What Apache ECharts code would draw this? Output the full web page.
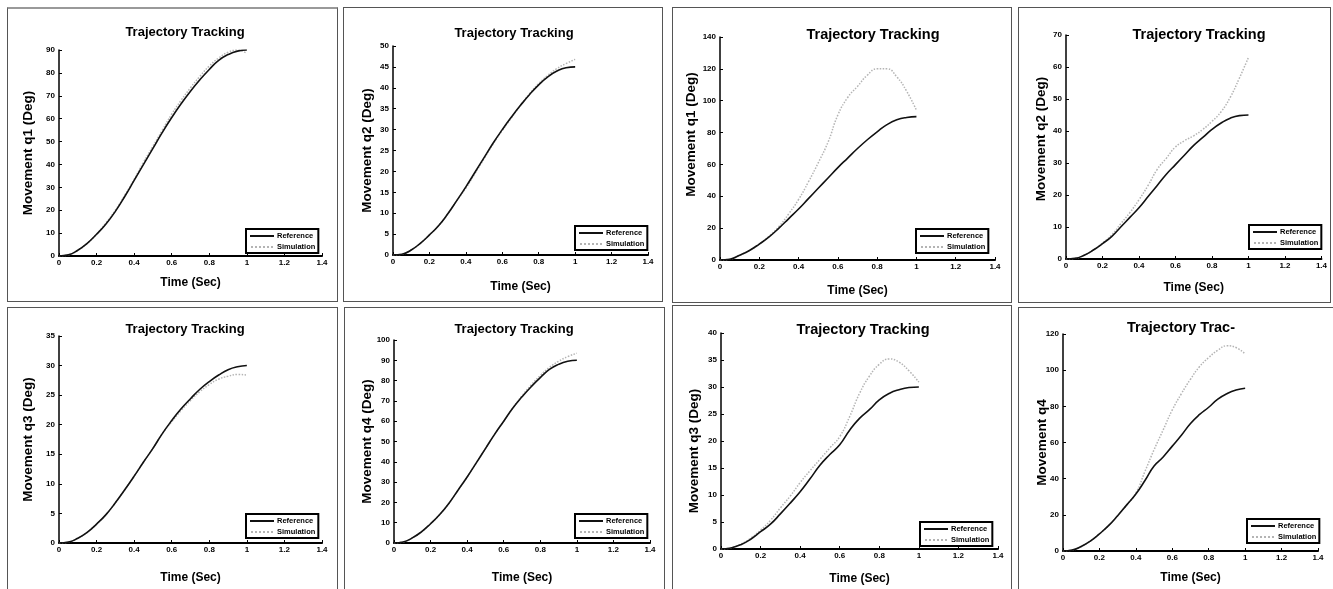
<!DOCTYPE html>
<html>
<head>
<meta charset="utf-8">
<title>Trajectory Tracking</title>
<script src="https://cdn.jsdelivr.net/npm/echarts/dist/echarts.min.js"></script>
<style>
body { margin:0; background:#fff; width:1333px; height:589px; overflow:hidden; position:relative; }
.panel { position:absolute; border:1px solid #555; box-sizing:border-box; background:#fff; }
</style>
</head>
<body>
<div id="p1" class="panel" style="left:7px;top:7px;width:331px;height:295px;border-top:2px solid #999"></div>
<div id="p2" class="panel" style="left:343px;top:7px;width:320px;height:295px"></div>
<div id="p3" class="panel" style="left:672px;top:7px;width:340px;height:296px"></div>
<div id="p4" class="panel" style="left:1018px;top:7px;width:313px;height:296px"></div>
<div id="p5" class="panel" style="left:7px;top:307px;width:331px;height:284px"></div>
<div id="p6" class="panel" style="left:344px;top:307px;width:321px;height:284px"></div>
<div id="p7" class="panel" style="left:672px;top:305px;width:340px;height:286px"></div>
<div id="p8" class="panel" style="left:1018px;top:307px;width:317px;height:284px"></div>
<script type="text/javascript">
// sample times (sec)
var time = [0,0.05,0.1,0.15,0.2,0.25,0.3,0.35,0.4,0.45,0.5,0.55,0.6,0.65,0.7,0.75,0.8,0.85,0.9,0.95,1];

// top row
var q1RefA = [0,0.5,2.5,5.5,9.5,14,19.5,26,33,40,47,54,60.5,66.5,72,77,81.5,85.5,88,89.5,90];
var q1SimA = [0,0.5,2.5,5.5,9.5,14.5,20,26.5,33.5,41,48,55,62,68,73.5,78.5,83,86.5,89,90,88.5];
var q2RefA = [0,0.2,1.2,2.8,4.8,7,9.8,13,16.3,19.8,23.3,26.8,30,33,35.8,38.4,40.7,42.6,44,44.8,45];
var q2SimA = [0,0.2,1.2,2.8,4.8,7,9.8,13,16,19.5,23,26.6,29.8,32.8,35.8,38.6,41,43,44.6,45.8,46.8];
var q1RefB = [0,0.5,3,6,10,14.5,20,26,32,38.5,45,51.5,58,64,70,75.5,80.5,85,88,89.5,90];
var q1SimB = [0,0.5,3,6,10,15,21,29,38,49,61,74,91,102,109,116,120,120,115,106,94];
var q2RefB = [0,0.2,1.2,2.8,4.8,7,10,13,16,19.5,23,26.5,29.5,32.5,35.5,38,40.5,42.5,44,44.8,45];
var q2SimB = [0,0.2,1.2,2.8,5,7.5,11,14.5,18.5,23,28,31.5,35,37,38.5,40.5,43,46,50.5,56.5,63];

// bottom row
var q3RefA = [0,0.15,0.8,1.8,3.2,4.8,6.8,9,11.3,13.7,16,18.5,20.7,22.7,24.4,26,27.3,28.4,29.3,29.8,30];
var q3SimA = [0,0.15,0.8,1.8,3.2,4.8,6.8,9,11.3,13.7,16,18.5,20.5,22.4,24.1,25.6,26.8,27.7,28.2,28.5,28.4];
var q4RefA = [0,0.5,2.5,5.5,9.5,14,19.5,26,32.5,39.5,46.5,53.5,60,66.5,72,77,81.5,85.5,88,89.5,90];
var q4SimA = [0,0.5,2.5,5.5,9.5,14,19.5,26,32.5,39.5,46.5,53.5,60,66.5,72.5,77.8,82.5,86.5,89.5,91.8,93.5];
var q3RefB = [0,0.2,0.8,1.8,3.2,4.6,6.5,8.5,10.6,13,15.5,17.5,19.3,22,24.2,25.8,27.6,28.8,29.5,29.9,30];
var q3SimB = [0,0.2,0.9,2,3.5,5.3,7.6,9.8,12.3,14.5,16.6,18.7,20.8,24.5,28.8,32,34.2,35.2,34.6,33,30.9];
var q4RefB = [0,0.5,2.5,5.5,9.5,14,19.5,25.5,31.5,39,47,52,58,64,70.5,75.5,79.5,84,87,89,90];
var q4SimB = [0,0.5,2.5,5.5,9.5,14,19.5,25.5,32,44,56,67,78,87,95,102,107,111,113.5,112.5,109];

var xTicks = { min: 0, max: 1.4, step: 0.2 };
var seriesNames = ['Reference', 'Simulation'];

function pairs(v) {
    return time.map(function (t, i) { return [t, v[i]]; });
}

var font = 'Arial, "Liberation Sans", sans-serif';
// legend samples: plain line and dotted line
var solidIcon = 'path://M0,0H24V2H0Z';
var dottedIcon = 'path://M0,0H2V2H0Z M4,0H6V2H4Z M8,0H10V2H8Z M12,0H14V2H12Z M16,0H18V2H16Z M20,0H22V2H20Z';

function drawPanel(id, c) {
    var chart = echarts.init(document.getElementById(id));
    var option = {
        animation: false,
        title: {
            text: c.title,
            left: c.titleX,
            top: c.titleY,
            textAlign: 'center',
            textStyle: { fontSize: c.titleSize, fontWeight: 'bold', color: '#000', fontFamily: font }
        },
        grid: c.grid,
        legend: {
            data: [{ name: seriesNames[0], icon: solidIcon }, { name: seriesNames[1], icon: dottedIcon }],
            orient: 'vertical',
            left: c.legend[0],
            top: c.legend[1],
            itemWidth: 24,
            itemHeight: 2,
            itemGap: 3,
            padding: [3, 3, 2, 4],
            borderColor: '#000',
            borderWidth: 2,
            backgroundColor: '#fff',
            textStyle: { fontSize: 7.5, fontWeight: 'bold', color: '#000', fontFamily: font, padding: [0, 0, 0, -2] }
        },
        xAxis: {
            type: 'value',
            min: xTicks.min, max: xTicks.max, interval: xTicks.step,
            name: 'Time (Sec)',
            nameLocation: 'middle',
            nameGap: c.xGap,
            nameMoveOverlap: false,
            nameTextStyle: { fontSize: 12, fontWeight: 'bold', color: '#000', fontFamily: font },
            axisLine: { lineStyle: { color: '#000', width: 2 } },
            axisTick: { inside: true, length: 3, lineStyle: { color: '#000' } },
            axisLabel: { fontSize: 8, fontWeight: 'bold', color: '#000', margin: 3, fontFamily: font },
            splitLine: { show: false }
        },
        yAxis: {
            type: 'value',
            min: 0, max: c.yMax, interval: c.yStep,
            name: c.yName,
            nameLocation: 'middle',
            nameGap: c.yGap,
            nameMoveOverlap: false,
            nameTextStyle: { fontSize: 13.5, fontWeight: 'bold', color: '#000', fontFamily: font,
                padding: c.yPad || 0 },
            axisLine: { show: true, lineStyle: { color: '#000', width: 1.5 } },
            axisTick: { show: true, inside: true, length: 3, lineStyle: { color: '#000' } },
            axisLabel: { fontSize: 8, fontWeight: 'bold', color: '#000', margin: 4, fontFamily: font },
            splitLine: { show: false }
        },
        series: [{
            name: 'Reference',
            type: 'line',
            smooth: true,
            showSymbol: false,
            symbol: 'none',
            lineStyle: { color: '#111', width: 1.6 },
            itemStyle: { color: '#111' },
            data: pairs(c.ref),
            z: 3
        }, {
            name: 'Simulation',
            type: 'line',
            smooth: true,
            showSymbol: false,
            symbol: 'none',
            lineStyle: { color: '#b4b4b4', width: 1.5, type: 'dotted' },
            itemStyle: { color: '#b4b4b4' },
            data: pairs(c.sim),
            z: 2
        }]
    };
    chart.setOption(option);
}

drawPanel('p1', { title: 'Trajectory Tracking', titleSize: 13, titleX: 172, titleY: 12, yName: 'Movement q1 (Deg)', yMax: 90, yStep: 10,
    ref: q1RefA, sim: q1SimA, grid: { left: 51, top: 41, right: 15, bottom: 45 }, xGap: 21, yGap: 24, legend: [238, 220] });
drawPanel('p2', { title: 'Trajectory Tracking', titleSize: 13, titleX: 165, titleY: 14, yName: 'Movement q2 (Deg)', yMax: 50, yStep: 5,
    ref: q2RefA, sim: q2SimA, grid: { left: 49, top: 38, right: 14, bottom: 46 }, xGap: 26, yGap: 19, legend: [231, 218] });
drawPanel('p3', { title: 'Trajectory Tracking', titleSize: 14.5, titleX: 195, titleY: 14, yName: 'Movement q1 (Deg)', yMax: 140, yStep: 20,
    ref: q1RefB, sim: q1SimB, grid: { left: 47, top: 29, right: 16, bottom: 40 }, xGap: 25, yGap: 22, legend: [243, 221],
    yPad: [0, 0, 0, 28] });
drawPanel('p4', { title: 'Trajectory Tracking', titleSize: 14.5, titleX: 175, titleY: 14, yName: 'Movement q2 (Deg)', yMax: 70, yStep: 10,
    ref: q2RefB, sim: q2SimB, grid: { left: 47, top: 27, right: 5, bottom: 43 }, xGap: 23, yGap: 18, legend: [230, 217],
    yPad: [0, 0, 0, 16] });
drawPanel('p5', { title: 'Trajectory Tracking', titleSize: 13, titleX: 172, titleY: 10, yName: 'Movement q3 (Deg)', yMax: 35, yStep: 5,
    ref: q3RefA, sim: q3SimA, grid: { left: 51, top: 28, right: 15, bottom: 47 }, xGap: 29, yGap: 24, legend: [238, 206] });
drawPanel('p6', { title: 'Trajectory Tracking', titleSize: 13, titleX: 164, titleY: 10, yName: 'Movement q4 (Deg)', yMax: 100, yStep: 10,
    ref: q4RefA, sim: q4SimA, grid: { left: 49, top: 32, right: 14, bottom: 47 }, xGap: 29, yGap: 20, legend: [230, 206] });
drawPanel('p7', { title: 'Trajectory Tracking', titleSize: 14.5, titleX: 185, titleY: 11, yName: 'Movement q3 (Deg)', yMax: 40, yStep: 5,
    ref: q3RefB, sim: q3SimB, grid: { left: 48, top: 27, right: 13, bottom: 38 }, xGap: 24, yGap: 20, legend: [247, 216],
    yPad: [0, 20, 0, 0] });
drawPanel('p8', { title: 'Trajectory Trac-', titleSize: 14.5, titleX: 157, titleY: 7, yName: 'Movement q4', yMax: 120, yStep: 20,
    ref: q4RefB, sim: q4SimB, grid: { left: 44, top: 26, right: 16, bottom: 39 }, xGap: 21, yGap: 14, legend: [228, 211] });
</script>
</body>
</html>
